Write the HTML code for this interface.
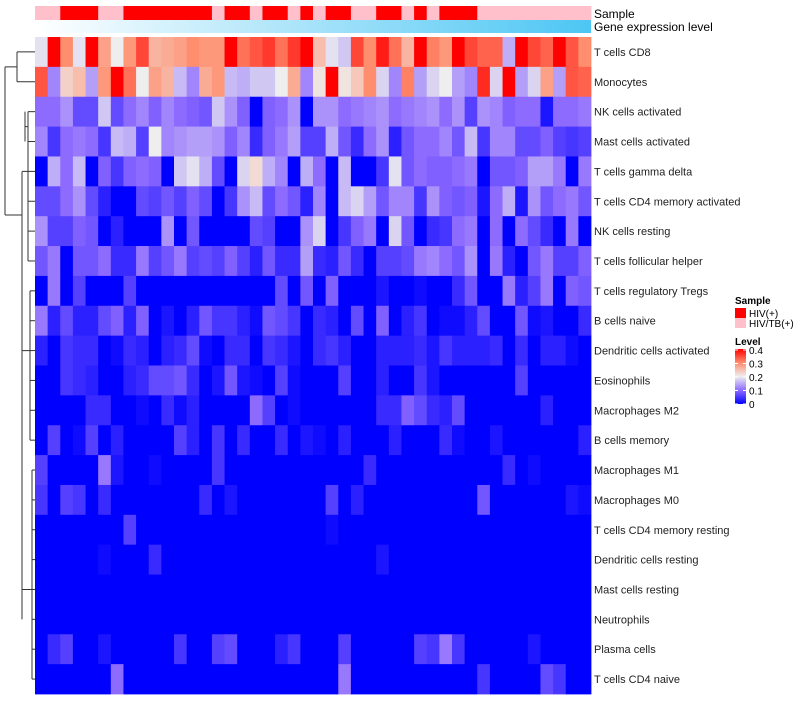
<!DOCTYPE html>
<html><head><meta charset="utf-8"><style>
body{margin:0;background:#fff;font-family:"Liberation Sans",sans-serif}
svg text{font-family:"Liberation Sans",sans-serif}
</style></head><body>
<svg id="chart" width="800" height="700">
<g id="dendro" stroke="#333" fill="none" stroke-width="1"></g>
<g id="anno"></g>
<g id="cells"></g>
<g id="labels"></g>
<g id="legend"></g>
</svg>
<script>
const rowNames=["T cells CD8","Monocytes","NK cells activated","Mast cells activated","T cells gamma delta","T cells CD4 memory activated","NK cells resting","T cells follicular helper","T cells regulatory  Tregs","B cells naive","Dendritic cells activated","Eosinophils","Macrophages M2","B cells memory","Macrophages M1","Macrophages M0","T cells CD4 memory resting","Dendritic cells resting","Mast cells resting","Neutrophils","Plasma cells","T cells CD4 naive"];
const sampleGroups=[1,1,0,0,0,1,1,0,0,0,0,0,0,0,1,0,0,1,0,0,1,0,1,0,0,1,1,0,0,1,0,1,0,0,0,1,1,1,1,1,1,1,1,1];
const sampleNames=["HIV(+)","HIV/TB(+)"];
const legendTicks=[0,0.1,0.2,0.3,0.4];
const r0=[0.19,0.4,0.3,0.19,0.4,0.28,0.2,0.29,0.35,0.26,0.27,0.28,0.3,0.29,0.29,0.4,0.32,0.34,0.36,0.32,0.36,0.4,0.25,0.19,0.17,0.35,0.3,0.38,0.32,0.26,0.4,0.31,0.29,0.4,0.35,0.33,0.33,0.15,0.4,0.35,0.33,0.4,0.34,0.3];
const r1=[0.34,0.12,0.23,0.25,0.14,0.29,0.4,0.32,0.2,0.28,0.26,0.16,0.12,0.27,0.29,0.16,0.15,0.17,0.17,0.2,0.27,0.12,0.21,0.4,0.21,0.24,0.3,0.18,0.12,0.31,0.14,0.18,0.2,0.14,0.12,0.37,0.18,0.4,0.14,0.18,0.28,0.14,0.34,0.33];
const r2=[0.1,0.1,0.13,0.07,0.07,0.17,0.07,0.1,0.12,0.09,0.12,0.1,0.09,0.08,0.17,0.13,0.09,0,0.09,0.1,0.13,0,0.13,0.13,0.1,0.11,0.12,0.13,0.1,0.11,0.12,0.13,0.1,0.13,0.06,0.13,0.12,0.09,0.1,0.1,0.02,0.1,0.1,0.11];
const r3=[0.12,0.05,0.1,0.11,0.1,0.05,0.16,0.15,0.06,0.2,0.12,0.13,0.14,0.14,0.13,0.09,0.12,0.04,0.09,0.11,0.14,0.06,0.06,0.15,0.08,0.04,0.1,0.13,0.03,0.08,0.1,0.1,0.12,0.08,0.16,0.05,0.12,0.12,0.07,0.07,0.09,0.06,0.05,0.06];
const r4=[0,0.15,0.1,0.16,0,0.09,0.05,0.09,0.1,0.09,0,0.17,0.19,0.15,0.07,0,0.18,0.22,0.15,0.12,0,0.15,0.1,0,0.16,0,0,0.05,0.19,0.08,0.1,0.09,0.09,0.1,0.11,0,0.08,0.08,0.09,0.14,0.14,0.11,0,0.11];
const r5=[0.07,0.07,0.1,0.13,0.07,0.03,0,0,0.07,0.06,0.08,0.06,0.09,0.07,0,0.05,0.13,0.16,0.07,0.1,0.08,0.03,0.12,0,0.16,0.18,0.14,0.08,0.12,0.12,0.05,0.13,0.09,0.08,0.09,0.02,0.1,0.15,0.02,0.13,0.08,0.1,0.11,0.08];
const r6=[0.13,0.06,0.06,0.09,0.08,0,0.03,0,0,0,0.13,0,0.08,0,0,0,0,0.07,0.06,0,0,0.13,0.18,0,0.05,0.09,0.11,0,0.18,0.08,0,0.04,0.05,0.1,0.11,0,0.1,0,0.1,0.07,0.04,0,0.11,0];
const r7=[0.08,0.11,0,0.08,0.08,0.1,0.04,0.04,0.11,0.06,0.08,0.11,0.06,0.07,0.06,0.09,0.06,0.03,0.08,0.04,0.04,0.14,0.04,0.03,0.08,0.04,0,0.06,0.06,0.07,0.11,0.12,0.1,0.08,0.13,0,0.11,0.03,0,0.08,0.11,0.06,0.06,0.09];
const r8=[0,0.11,0,0.06,0,0,0,0.06,0,0,0,0,0,0,0,0,0,0,0,0.07,0,0.08,0,0.09,0,0,0,0.02,0,0,0.01,0,0,0.04,0.08,0,0,0.11,0.03,0.06,0.11,0,0.09,0.08];
const r9=[0.11,0.03,0.07,0.03,0.03,0.07,0.09,0.03,0.09,0,0.02,0,0.03,0.08,0.05,0.05,0.03,0.01,0.08,0.07,0.05,0,0.04,0.03,0,0.07,0,0.09,0,0.03,0.05,0,0.01,0.01,0.03,0.07,0,0,0.08,0.01,0.02,0,0,0.04];
const r10=[0.03,0,0.05,0.04,0.04,0,0.01,0.04,0.03,0,0.03,0.04,0.07,0.01,0,0.04,0.04,0,0.05,0.04,0.02,0,0.04,0.05,0.03,0,0,0.03,0.03,0.03,0.04,0.02,0.05,0.03,0.03,0.03,0.04,0,0.04,0,0.03,0.03,0.01,0];
const r11=[0,0,0.05,0.04,0.03,0,0,0.03,0.04,0.07,0.07,0.08,0.04,0,0.02,0.08,0.02,0.01,0,0.06,0.01,0,0,0,0.06,0,0,0.03,0,0,0.05,0.02,0,0,0,0,0,0,0.06,0,0,0,0,0];
const r12=[0,0,0,0,0.04,0.04,0,0,0.01,0,0.04,0.01,0.03,0,0,0,0,0.1,0.06,0,0.01,0,0,0,0,0,0,0.04,0.04,0.09,0.07,0.04,0.03,0.07,0,0,0,0,0,0,0.03,0,0,0];
const r13=[0,0.06,0,0.01,0.06,0,0.03,0,0,0,0,0.06,0.03,0,0.05,0,0.04,0,0,0.04,0,0.02,0.01,0,0.03,0,0,0,0.03,0,0,0,0.04,0.01,0,0,0.02,0,0,0,0,0,0,0.03];
const r14=[0.06,0,0,0,0,0.11,0.02,0,0,0.01,0,0,0,0,0.05,0,0,0,0,0,0,0,0,0,0,0,0.04,0,0,0,0,0,0,0,0,0,0,0.04,0,0.01,0,0,0,0];
const r15=[0.05,0,0.06,0.05,0,0.04,0,0,0,0,0,0,0,0.04,0,0.02,0,0,0,0,0,0,0,0.06,0,0.03,0,0,0,0,0,0,0,0,0,0.08,0,0,0,0,0,0,0.02,0.01];
const r16=[0,0,0,0,0,0,0,0.06,0,0,0,0,0,0,0,0,0,0,0,0,0,0,0,0.01,0,0,0,0,0,0,0,0,0,0,0,0,0,0,0,0,0,0,0,0];
const r17=[0,0,0,0,0,0.01,0,0,0,0.04,0,0,0,0,0,0,0,0,0,0,0,0,0,0,0,0,0,0.02,0,0,0,0,0,0,0,0,0,0,0,0,0,0,0,0];
const r18=[0,0,0,0,0,0,0,0,0,0,0,0,0,0,0,0,0,0,0,0,0,0,0,0,0,0,0,0,0,0,0,0,0,0,0,0,0,0,0,0,0,0,0,0];
const r19=[0,0,0,0,0,0,0,0,0,0,0,0,0,0,0,0,0,0,0,0,0,0,0,0,0,0,0,0,0,0,0,0,0,0,0,0,0,0,0,0,0,0,0,0];
const r20=[0,0.04,0.06,0,0,0.02,0,0,0,0,0,0.05,0,0,0.06,0.07,0,0,0,0.03,0.05,0,0,0,0.06,0,0,0,0,0,0.06,0.05,0.11,0.05,0,0,0,0,0,0.02,0,0,0,0];
const r21=[0,0,0,0,0,0,0.1,0,0,0,0,0,0,0,0,0,0,0,0,0,0,0,0,0,0.11,0,0,0,0,0,0,0,0,0,0,0.05,0,0,0,0,0.07,0.05,0,0];
const values=[r0,r1,r2,r3,r4,r5,r6,r7,r8,r9,r10,r11,r12,r13,r14,r15,r16,r17,r18,r19,r20,r21];

const NS="http://www.w3.org/2000/svg";
const X0=35,X1=591,Y0=37,Y1=694;
const nCol=sampleGroups.length,nRow=rowNames.length;
const cw=(X1-X0)/nCol,rh=(Y1-Y0)/nRow;
const xPos=i=>X0+i*cw, yPos=j=>Y0+j*rh;
const stops=[[0,[0,0,255]],[0.1,[142,107,255]],[0.2,[238,238,238]],[0.3,[255,142,110]],[0.4,[255,0,0]]];
function color(v){v=Math.max(0,Math.min(0.4,v));for(let k=0;k<stops.length-1;k++){const[a,ca]=stops[k],[b,cb]=stops[k+1];if(v<=b){const t=(v-a)/(b-a);return `rgb(${ca.map((c,i)=>Math.round(c+(cb[i]-c)*t)).join(',')})`;}}return 'rgb(255,0,0)';}
function mk(tag,attrs,parent){const e=document.createElementNS(NS,tag);for(const k in attrs)e.setAttribute(k,attrs[k]);parent.appendChild(e);return e;}
const cells=document.getElementById('cells');
values.forEach((row,j)=>row.forEach((v,i)=>{
 const r=mk('rect',{x:xPos(i),y:yPos(j),width:cw+0.4,height:rh+0.4,fill:color(v)},cells);
 
 
}));
const anno=document.getElementById('anno');
const defs=mk('defs',{},anno);
const lg=mk('linearGradient',{id:'gexp',x1:0,x2:1,y1:0,y2:0},defs);
mk('stop',{offset:0,'stop-color':'#ffffff'},lg);mk('stop',{offset:1,'stop-color':'#4cc6f4'},lg);
sampleGroups.forEach((g,i)=>{
 const r=mk('rect',{x:xPos(i),y:6,width:cw+0.4,height:14,fill:g?'#FFC0CB':'#FF0000'},anno);
 
 
});
const ge=mk('rect',{x:X0,y:20,width:X1-X0,height:13,fill:'url(#gexp)'},anno);


let t=mk('text',{x:594,y:18,'font-size':12},anno);t.textContent='Sample';

t=mk('text',{x:594,y:31,'font-size':12},anno);t.textContent='Gene expression level';

const labels=document.getElementById('labels');
rowNames.forEach((n,j)=>{
 const e=mk('text',{x:594,y:yPos(j)+rh/2+4,'font-size':11,fill:'#222'},labels);e.textContent=n;
 
 
});
// dendrogram
const d=document.getElementById('dendro');
const yc=j=>yPos(j)+rh/2;
const p=(s)=>mk('path',{d:s},d);
p(`M35 ${yc(0)} H17 M35 ${yc(1)} H17 M17 ${yc(0)} V${yc(1)} M17 ${(yc(0)+yc(1))/2} H5`);
const topL=215;
p(`M5 ${(yc(0)+yc(1))/2} V${topL} M5 ${topL} H22`);
p(`M22 ${yc(2)+60} V${yc(19)}`);
for(let j=2;j<nRow;j++){const x=j<8?28:(j<14?30:32);p(`M35 ${yc(j)} H${x}`);}
p(`M28 ${yc(2)} V${yc(7)} M30 ${yc(8)} V${yc(13)} M32 ${yc(14)} V${yc(21)}`);
p(`M22 ${yc(4)} H28 M22 ${yc(10)} H30 M22 ${yc(18)} H32`);
p(`M25 ${yc(2)} V${yc(3)} M25 ${yc(2)+15} H28`);
// legend
const L=document.getElementById('legend');
t=mk('text',{x:735,y:304,'font-size':10,'font-weight':'bold'},L);t.textContent='Sample';

sampleNames.forEach((n,k)=>{
 const r=mk('rect',{x:735,y:308+k*10,width:11,height:10,fill:k?'#FFC0CB':'#FF0000'},L);
 
 const tx=mk('text',{x:749,y:317+k*10,'font-size':10},L);tx.textContent=n;
 
});
t=mk('text',{x:735,y:345,'font-size':10,'font-weight':'bold'},L);t.textContent='Level';

const lg2=mk('linearGradient',{id:'lvl',x1:0,x2:0,y1:1,y2:0},defs);
legendTicks.forEach(v=>mk('stop',{offset:v/0.4,'stop-color':color(v)},lg2));
const cb=mk('rect',{x:735,y:349,width:11,height:55,fill:'url(#lvl)'},L);

legendTicks.forEach(v=>{
 const y=404-v/0.4*54;
 mk('line',{x1:735,x2:738,y1:y,y2:y,stroke:'#fff'},L);
 mk('line',{x1:743,x2:746,y1:y,y2:y,stroke:'#fff'},L);
 const tx=mk('text',{x:749,y:y+4,'font-size':10},L);tx.textContent=String(v);
 
});
</script>
</body></html>
